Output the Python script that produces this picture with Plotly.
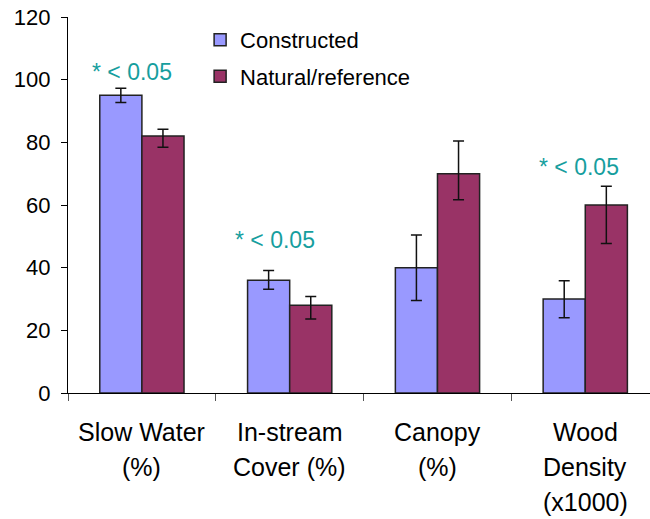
import plotly.graph_objects as go

categories = [["Slow Water", "(%)"], ["In-stream", "Cover (%)"], ["Canopy", "(%)"], ["Wood", "Density", "(x1000)"]]
constructed = [95, 36, 40, 30]
constructed_err_plus = [2.3, 3.1, 10.4, 5.8]
constructed_err_minus = [2.3, 2.9, 10.5, 6.0]
natural = [82, 28, 70, 60]
natural_err_plus = [2.2, 2.8, 10.4, 6.0]
natural_err_minus = [3.6, 4.4, 8.3, 12.3]
sig_index = [0, 1, 3]
sig_offset = [-0.07, -0.1, -0.04]
sig_y = [102.4, 48.9, 72.1]
sig_text = "* < 0.05"
yticks = [0, 20, 40, 60, 80, 100, 120]

FONT = "Liberation Sans, Arial, sans-serif"
x = list(range(len(categories)))

fig = go.Figure()
fig.add_bar(
    x=x, y=constructed, name="Constructed", legendgroup="a",
    marker=dict(color="#9999FF", line=dict(color="#222222", width=1.5)),
    error_y=dict(type="data", array=constructed_err_plus, arrayminus=constructed_err_minus,
                 color="#111111", thickness=1.5, width=5.5),
)
fig.add_bar(
    x=x, y=natural, name="Natural/reference", legendgroup="b",
    marker=dict(color="#993366", line=dict(color="#222222", width=1.5)),
    error_y=dict(type="data", array=natural_err_plus, arrayminus=natural_err_minus,
                 color="#111111", thickness=1.5, width=5.5),
)

annotations = []
for i, off, yv in zip(sig_index, sig_offset, sig_y):
    annotations.append(dict(x=i + off, y=yv, xref="x", yref="y", text=sig_text, showarrow=False,
                            font=dict(family=FONT, size=23, color="#169E9E"),
                            xanchor="center", yanchor="middle"))
for i, lines in enumerate(categories):
    for j, line in enumerate(lines):
        annotations.append(dict(x=i, y=0, xref="x", yref="paper", text=line, showarrow=False,
                                font=dict(family=FONT, size=25, color="black"),
                                xanchor="center", yanchor="middle", yshift=-(39 + 35 * j)))

fig.update_layout(
    width=650, height=519,
    margin=dict(l=68, r=0, t=17, b=126),
    paper_bgcolor="white", plot_bgcolor="white",
    font=dict(family=FONT, size=22, color="black"),
    barmode="group", bargap=0.43, bargroupgap=0,
    showlegend=True,
    legend=dict(x=0.227, y=0.995, xanchor="left", yanchor="top", bgcolor="rgba(0,0,0,0)",
                font=dict(family=FONT, size=22, color="black"), tracegroupgap=5,
                itemwidth=30),
    annotations=annotations,
    xaxis=dict(range=[-0.5, 3.438], tickmode="array", tickvals=[-0.5, 0.5, 1.5, 2.5, 3.5],
               showticklabels=False, ticks="outside", ticklen=7, tickcolor="#555555",
               showline=True, linecolor="black", linewidth=1.2, showgrid=False, zeroline=False),
    yaxis=dict(range=[0, 120], tickmode="array", tickvals=yticks, ticks="outside", ticklen=6,
               tickcolor="black", showline=True, linecolor="black", linewidth=1.2,
               showgrid=False, zeroline=False, ticklabelstandoff=6,
               tickfont=dict(family=FONT, size=22, color="black")),
)

fig.write_html("out.html")
